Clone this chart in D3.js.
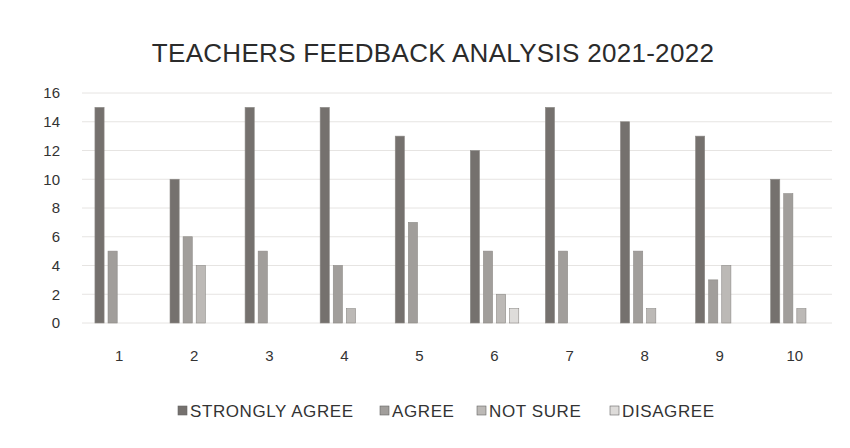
<!DOCTYPE html>
<html>
<head>
<meta charset="utf-8">
<script src="https://cdn.jsdelivr.net/npm/d3@7"></script>
<style>
  body { margin: 0; background: #fff; }
  svg { font-family: "Liberation Sans", Arial, sans-serif; }
  .grid line { stroke: #e6e4e2; }
  .axis text { fill: #333; }
</style>
</head>
<body>
<svg id="chart" width="850" height="448"></svg>
<script>
var categories = ['1', '2', '3', '4', '5', '6', '7', '8', '9', '10'];
var seriesNames = ['STRONGLY AGREE', 'AGREE', 'NOT SURE', 'DISAGREE'];
var stronglyAgree = [15, 10, 15, 15, 13, 12, 15, 14, 13, 10];
var agree = [5, 6, 5, 4, 7, 5, 5, 5, 3, 9];
var notSure = [0, 4, 0, 1, 0, 2, 0, 1, 4, 1];
var disagree = [0, 0, 0, 0, 0, 1, 0, 0, 0, 0];
var yTicks = [0, 2, 4, 6, 8, 10, 12, 14, 16];

var seriesValues = [stronglyAgree, agree, notSure, disagree];
var color = d3.scaleOrdinal()
    .domain(seriesNames)
    .range(['#75716e', '#a19e9b', '#bcb9b6', '#dedcda']);

var svg = d3.select('#chart');
var margin = {top: 93, left: 82, right: 18, bottom: 125},
    width = 850 - margin.left - margin.right,
    height = 448 - margin.top - margin.bottom;

svg.append('text')
    .attr('x', 433)
    .attr('y', 62)
    .attr('text-anchor', 'middle')
    .style('font-size', '26px')
    .style('letter-spacing', '0.3px')
    .style('fill', '#2b2b2b')
    .text('TEACHERS FEEDBACK ANALYSIS 2021-2022');

var g = svg.append('g').attr('transform', 'translate(' + margin.left + ',' + margin.top + ')');

var x0 = d3.scaleBand().domain(categories).range([0, width]).paddingInner(0.25).paddingOuter(0.12);
var x1 = d3.scaleBand().domain(seriesNames).range([0, x0.bandwidth()]).padding(0.3);
var y = d3.scaleLinear().domain([0, 16]).range([height, 0]);

// gridlines
g.append('g')
    .attr('class', 'grid')
    .selectAll('line')
    .data(yTicks)
    .enter().append('line')
    .attr('x1', 0)
    .attr('x2', width)
    .attr('y1', function (d) { return y(d); })
    .attr('y2', function (d) { return y(d); });

var rows = categories.map(function (c, i) {
    return seriesNames.map(function (s, j) {
        return {cat: c, series: s, value: seriesValues[j][i]};
    });
});

g.append('g')
    .selectAll('g')
    .data(rows)
    .enter().append('g')
    .attr('transform', function (d) { return 'translate(' + x0(d[0].cat) + ',0)'; })
    .selectAll('rect')
    .data(function (d) { return d.filter(function (e) { return e.value > 0; }); })
    .enter().append('rect')
    .attr('x', function (d) { return x1(d.series); })
    .attr('y', function (d) { return y(d.value); })
    .attr('width', x1.bandwidth())
    .attr('height', function (d) { return height - y(d.value); })
    .attr('fill', function (d) { return color(d.series); })
    .attr('stroke', '#8d8a87')
    .attr('stroke-width', 0.6);

// y axis
g.append('g')
    .attr('class', 'axis')
    .call(d3.axisLeft(y).tickValues(yTicks).tickSize(0).tickPadding(22))
    .call(function (a) { a.select('.domain').remove(); })
    .selectAll('text')
    .style('font-size', '15px');

// x axis
g.append('g')
    .attr('class', 'axis')
    .attr('transform', 'translate(0,' + height + ')')
    .call(d3.axisBottom(x0).tickSize(0).tickPadding(27))
    .call(function (a) { a.select('.domain').remove(); })
    .selectAll('text')
    .style('font-size', '15px');

// legend
var legendX = [178, 380, 477, 610];
var legend = svg.append('g')
    .selectAll('g')
    .data(seriesNames)
    .enter().append('g')
    .attr('transform', function (d, i) { return 'translate(' + legendX[i] + ',406)'; });

legend.append('rect')
    .attr('width', 9)
    .attr('height', 9)
    .attr('fill', color)
    .attr('stroke', '#666')
    .attr('stroke-width', 0.6);

legend.append('text')
    .attr('x', 12)
    .attr('y', 11)
    .style('font-size', '17px')
    .style('letter-spacing', '0.6px')
    .style('fill', '#333')
    .text(function (d) { return d; });
</script>
</body>
</html>
